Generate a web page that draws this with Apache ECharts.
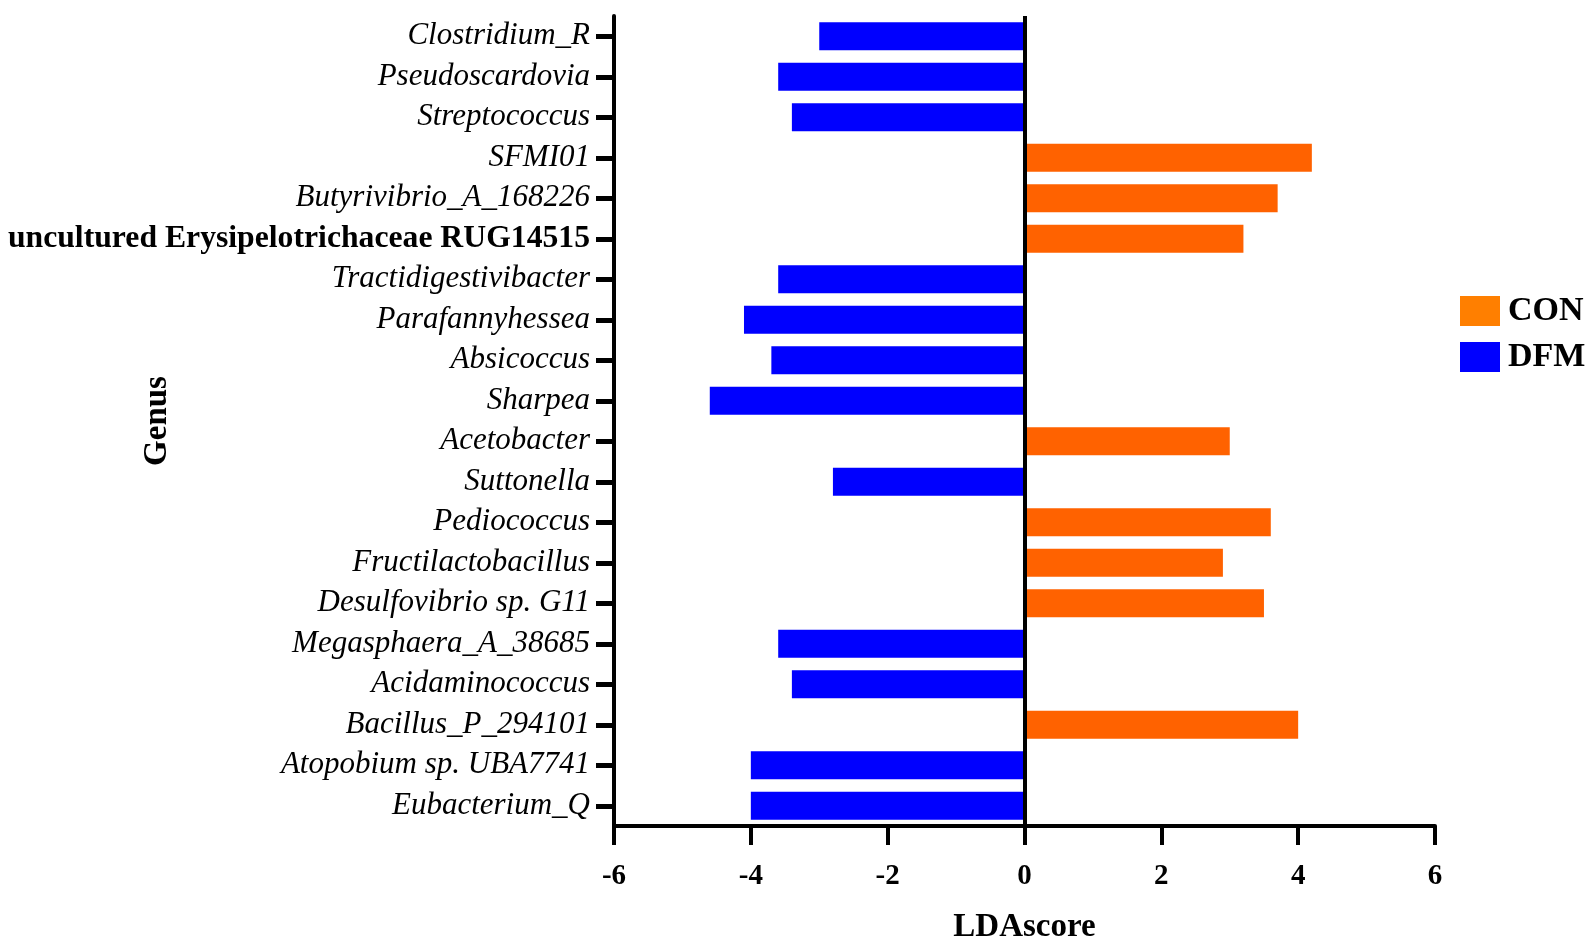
<!DOCTYPE html>
<html>
<head>
<meta charset="utf-8">
<script src="https://cdn.jsdelivr.net/npm/echarts@6/dist/echarts.min.js"></script>
<style>
  html, body { margin: 0; padding: 0; background: #fff; }
  #chart { width: 1595px; height: 944px; }
</style>
</head>
<body>
<div id="chart"></div>
<script>
// genus names, top to bottom as in the figure
var genus = [
    'Clostridium_R', 'Pseudoscardovia', 'Streptococcus', 'SFMI01',
    'Butyrivibrio_A_168226', 'uncultured Erysipelotrichaceae RUG14515',
    'Tractidigestivibacter', 'Parafannyhessea', 'Absicoccus', 'Sharpea',
    'Acetobacter', 'Suttonella', 'Pediococcus', 'Fructilactobacillus',
    'Desulfovibrio sp. G11', 'Megasphaera_A_38685', 'Acidaminococcus',
    'Bacillus_P_294101', 'Atopobium sp. UBA7741', 'Eubacterium_Q'
];
// LDA scores (same order), '-' = not in that group
var conScore = ['-', '-', '-', 4.2, 3.7, 3.2, '-', '-', '-', '-',
                3.0, '-', 3.6, 2.9, 3.5, '-', '-', 4.0, '-', '-'];
var dfmScore = [-3.0, -3.6, -3.4, '-', '-', '-', -3.6, -4.1, -3.7, -4.6,
                '-', -2.8, '-', '-', '-', -3.6, -3.4, '-', -4.0, -4.0];
var xTicks = [-6, 6, 2];   // min, max, step

var boldLabel = 'uncultured Erysipelotrichaceae RUG14515';
var serif = '"Liberation Serif", "Times New Roman", serif';

var chart = echarts.init(document.getElementById('chart'));

var option = {
    backgroundColor: '#fff',
    animation: false,
    grid: { left: 614, right: 160, top: 16, bottom: 118, containLabel: false, outerBoundsMode: 'none' },
    legend: {
        orient: 'vertical',
        left: 1455,
        top: 289,
        itemWidth: 40,
        itemHeight: 30,
        itemGap: 12,
        icon: 'rect',
        textStyle: { fontFamily: serif, fontWeight: 'bold', fontSize: 34, color: '#000', padding: [0, 0, 0, 3] },
        data: [
            { name: 'CON', itemStyle: { color: '#FF7F00' } },
            { name: 'DFM', itemStyle: { color: '#0000FF' } }
        ]
    },
    xAxis: {
        type: 'value',
        min: xTicks[0],
        max: xTicks[1],
        interval: xTicks[2],
        name: 'LDAscore',
        nameLocation: 'middle',
        nameGap: 85,
        nameMoveOverlap: false,
        nameTextStyle: { fontFamily: serif, fontWeight: 'bold', fontSize: 33, color: '#000' },
        splitLine: { show: false },
        axisLine: { show: true, onZero: false, lineStyle: { color: '#000', width: 4 } },
        axisTick: { show: true, inside: false, length: 19, lineStyle: { color: '#000', width: 4 } },
        axisLabel: { margin: 36, fontFamily: serif, fontWeight: 'bold', fontSize: 29, color: '#000' }
    },
    yAxis: {
        type: 'category',
        inverse: true,
        data: genus,
        name: 'Genus',
        nameLocation: 'middle',
        nameGap: 440,
        nameRotate: 90,
        nameMoveOverlap: false,
        nameTextStyle: { fontFamily: serif, fontWeight: 'bold', fontSize: 33, color: '#000' },
        axisLine: { show: true, onZero: false, lineStyle: { color: '#000', width: 4 } },
        axisTick: { show: true, alignWithLabel: true, length: 18, lineStyle: { color: '#000', width: 5 } },
        axisLabel: {
            margin: 24,
            formatter: function (v) {
                return v === boldLabel ? '{b|' + v + '}' : '{i|' + v + '}';
            },
            rich: {
                i: { fontFamily: serif, fontStyle: 'italic', fontSize: 31, color: '#000' },
                b: { fontFamily: serif, fontWeight: 'bold', fontSize: 31.7, color: '#000' }
            }
        }
    },
    series: [
        {
            name: 'CON',
            type: 'bar',
            data: conScore,
            barWidth: '69%',
            barGap: '-100%',
            itemStyle: { color: '#FF6200' },
            markLine: {
                silent: true,
                symbol: 'none',
                label: { show: false },
                lineStyle: { color: '#000', width: 4, type: 'solid' },
                data: [{ xAxis: 0 }]
            }
        },
        {
            name: 'DFM',
            type: 'bar',
            data: dfmScore,
            barWidth: '69%',
            barGap: '-100%',
            itemStyle: { color: '#0000FF' }
        }
    ]
};

chart.setOption(option);
</script>
</body>
</html>
